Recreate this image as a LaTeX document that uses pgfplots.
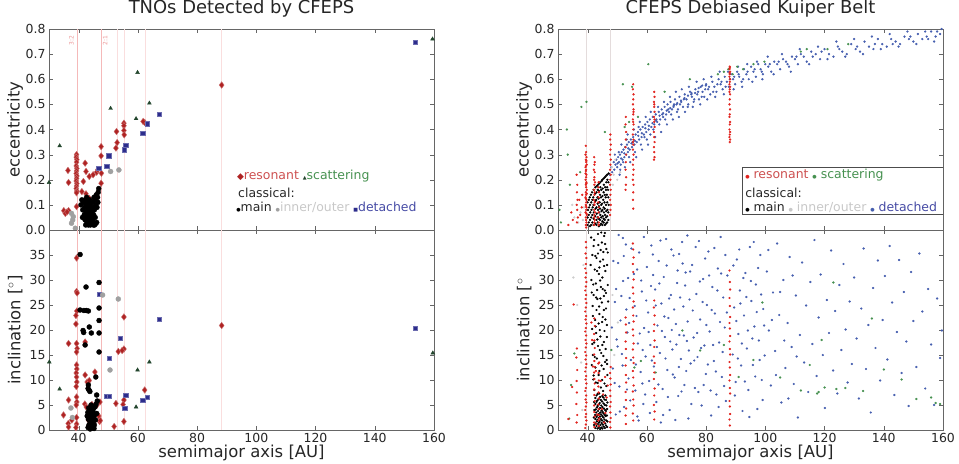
\documentclass[border=0pt]{standalone}
\usepackage{pgfplots}
\pgfplotsset{compat=1.18}
\usepackage{fontspec}
\setmainfont{DejaVu Sans}
\setsansfont{DejaVu Sans}
\definecolor{resred}{RGB}{175,35,35}
\definecolor{restext}{RGB}{205,80,80}
\definecolor{resredR}{RGB}{225,35,30}
\definecolor{scadark}{RGB}{35,70,45}
\definecolor{scagreen}{RGB}{70,145,80}
\definecolor{innergray}{RGB}{160,160,160}
\definecolor{innertext}{RGB}{200,200,200}
\definecolor{innerR}{RGB}{205,205,205}
\definecolor{detblue}{RGB}{45,45,140}
\definecolor{dettext}{RGB}{70,75,165}
\definecolor{detR}{RGB}{70,95,175}
\definecolor{resline}{RGB}{245,185,185}
\definecolor{reslinefaint}{RGB}{250,222,222}
\definecolor{reslabel}{RGB}{235,150,150}
\definecolor{gline}{RGB}{228,220,220}
\pgfplotsset{
 panel/.style={scale only axis, width=385bp, xmin=30, xmax=160,
   xtick={40,60,80,100,120,140,160},
   axis line style={draw=black!60}, tick style={black!60, major tick length=4bp},
   tick label style={font=\fontsize{12.5}{14}\selectfont, text=black!85},
   label style={font=\fontsize{16.5}{19}\selectfont, text=black!85},
   /pgf/number format/assume math mode=true,
   ylabel style={at={(axis description cs:-0.088,0.5)}, anchor=center}},
 toppanel/.style={panel, height=201bp, ymin=0, ymax=0.8,
   ytick={0,0.1,0.2,0.3,0.4,0.5,0.6,0.7,0.8}, xticklabels={},
   yticklabel style={/pgf/number format/.cd, fixed, fixed zerofill, precision=1},
   ylabel={eccentricity},
   title style={font=\fontsize{18}{21}\selectfont, text=black!85, at={(axis description cs:0.5,1.0)}, anchor=south, yshift=2bp}},
 botpanel/.style={panel, height=200bp, ymin=0, ymax=40, ytick={0,5,10,15,20,25,30,35},
   xlabel={semimajor axis [AU]},
   xlabel style={at={(axis description cs:0.5,-0.115)}, anchor=center}},
 resL/.style={only marks, mark=diamond*, mark size=3.3pt, mark options={fill=resred, draw=resred!65!white, line width=0.4pt}},
 mainL/.style={only marks, mark=*, mark size=2.5pt, mark options={fill=black, draw=black}},
 innL/.style={only marks, mark=*, mark size=2.5pt, mark options={fill=innergray, draw=innergray}},
 detL/.style={only marks, mark=square*, mark size=2.2pt, mark options={fill=detblue, draw=detblue!70!white}},
 scaL/.style={only marks, mark=triangle*, mark size=2.2pt, mark options={fill=scadark, draw=scadark}},
 dotR/.style={only marks, mark=*, mark size=0.95pt},
}
\begin{document}
\begin{tikzpicture}
\useasboundingbox (0,0) rectangle (959bp,464bp);
% ---------------- LEFT TOP ----------------
\begin{axis}[toppanel, at={(49bp,234bp)}, anchor=south west, title={TNOs Detected by CFEPS}]
\draw[resline, line width=0.5pt] (axis cs:39.4,0) -- (axis cs:39.4,0.8);
\draw[resline, line width=0.5pt] (axis cs:47.7,0) -- (axis cs:47.7,0.8);
\draw[reslinefaint, line width=0.5pt] (axis cs:52.9,0) -- (axis cs:52.9,0.8);
\draw[reslinefaint, line width=0.5pt] (axis cs:55.4,0) -- (axis cs:55.4,0.8);
\draw[reslinefaint, line width=0.5pt] (axis cs:62.6,0) -- (axis cs:62.6,0.8);
\draw[reslinefaint, line width=0.5pt] (axis cs:88.0,0) -- (axis cs:88.0,0.8);
\node[rotate=90, font=\fontsize{6}{7}\selectfont, text=reslabel] at (axis cs:37.6,0.755) {3:2};
\node[rotate=90, font=\fontsize{6}{7}\selectfont, text=reslabel] at (axis cs:49.0,0.755) {2:1};
\addplot[resL] coordinates {
(39.3,0.30)(39.2,0.29)(39.4,0.28)(39.3,0.27)(39.2,0.255)(39.4,0.245)(39.3,0.235)(39.2,0.225)
(39.4,0.215)(39.3,0.205)(39.2,0.195)(39.4,0.185)(39.3,0.175)(39.2,0.165)(39.4,0.155)(39.3,0.148)(39.3,0.093)
(36.4,0.237)(36.6,0.189)(35.0,0.077)(36.6,0.077)(35.5,0.066)(36.1,0.072)
(42.2,0.266)(42.5,0.233)(43.6,0.213)(41.6,0.193)(41.1,0.153)(42.5,0.144)(43.6,0.126)(43.3,0.082)(43.9,0.10)
(44.9,0.22)(46.1,0.23)(47.6,0.332)(47.6,0.295)(47.7,0.226)(47.6,0.186)(46.5,0.24)
(52.8,0.392)(53.0,0.348)(52.6,0.326)(55.3,0.425)(55.3,0.415)(55.3,0.396)(55.4,0.379)
(62.3,0.428)(61.8,0.432)(88.3,0.577)};
\addplot[detL] coordinates {(46.8,0.246)(50.1,0.295)(49.5,0.255)(55.3,0.319)(55.9,0.338)(61.6,0.385)(63.2,0.423)(67.3,0.462)(153.7,0.747)};
\addplot[innL] coordinates {(37.6,0.066)(38.2,0.053)(37.6,0.027)(38.9,0.007)(38.0,0.04)(50.8,0.233)(53.6,0.239)};
\addplot[mainL] coordinates {
(40.8,0.10)(41.1,0.12)(41.4,0.08)(41.6,0.11)(41.9,0.06)(42.1,0.09)(42.2,0.04)(42.3,0.12)(42.4,0.02)(42.5,0.07)
(42.6,0.10)(42.8,0.05)(42.9,0.03)(43.0,0.08)(43.1,0.11)(43.2,0.06)(43.3,0.02)(43.4,0.04)(43.5,0.09)(43.6,0.07)
(43.7,0.03)(43.8,0.05)(43.9,0.10)(44.0,0.02)(44.1,0.06)(44.2,0.04)(44.3,0.08)(44.4,0.03)(44.5,0.07)(44.6,0.05)
(44.7,0.11)(44.8,0.04)(44.9,0.09)(45.0,0.02)(45.1,0.06)(45.3,0.08)(45.5,0.12)(45.6,0.05)(45.8,0.10)(46.0,0.14)
(46.2,0.09)(46.4,0.13)(46.6,0.15)(46.8,0.165)(46.5,0.11)(46.1,0.03)(45.7,0.025)(41.3,0.05)(42.7,0.13)(43.7,0.12)(45.2,0.13)(45.4,0.02)};
\addplot[scaL] coordinates {(33.6,0.335)(30.0,0.189)(50.8,0.484)(59.9,0.627)(59.4,0.443)(63.9,0.505)(159.5,0.76)};
\node[anchor=west, inner sep=0pt, font=\fontsize{12.5}{15}\selectfont] at (rel axis cs:0.488,0.269)
 {\textcolor{resred}{\small◆}\textcolor{restext}{resonant} \textcolor{scadark}{\tiny▲}\textcolor{scagreen}{scattering}};
\node[anchor=west, inner sep=0pt, font=\fontsize{12.5}{15}\selectfont, text=black!85] at (rel axis cs:0.491,0.184) {classical:};
\node[anchor=west, inner sep=0pt, font=\fontsize{12.5}{15}\selectfont] at (rel axis cs:0.486,0.114)
 {\textcolor{black}{\tiny●}\textcolor{black!85}{main} \textcolor{innergray}{\tiny●}\textcolor{innertext}{inner/outer} \textcolor{detblue}{\tiny■}\textcolor{dettext}{detached}};
\end{axis}
% ---------------- LEFT BOTTOM ----------------
\begin{axis}[botpanel, at={(49bp,34bp)}, anchor=south west, ylabel={inclination [$^\circ$]}]
\draw[resline, line width=0.5pt] (axis cs:39.4,0) -- (axis cs:39.4,40);
\draw[resline, line width=0.5pt] (axis cs:47.7,0) -- (axis cs:47.7,40);
\draw[reslinefaint, line width=0.5pt] (axis cs:52.9,0) -- (axis cs:52.9,40);
\draw[reslinefaint, line width=0.5pt] (axis cs:55.4,0) -- (axis cs:55.4,40);
\draw[reslinefaint, line width=0.5pt] (axis cs:62.6,0) -- (axis cs:62.6,40);
\draw[reslinefaint, line width=0.5pt] (axis cs:88.0,0) -- (axis cs:88.0,40);
\addplot[resL] coordinates {
(39.3,34.4)(39.3,27.7)(39.5,27.4)(39.4,23.8)(39.1,22.9)(39.1,21.2)(36.6,17.3)(39.3,17.3)(39.5,16.3)(39.3,15.6)
(39.3,13.0)(39.4,12.2)(39.2,11.4)(39.3,10.6)(39.4,9.6)(39.2,8.7)(39.3,6.6)(39.4,5.6)(39.2,5.0)(39.3,2.5)(39.3,1.2)(39.1,0.5)
(34.9,3.0)(36.6,6.0)(36.5,1.3)(36.6,0.6)(37.7,2.0)
(42.2,17.6)(42.2,11.0)(42.9,9.6)(43.6,9.9)(42.1,5.2)(42.6,4.6)(45.5,11.6)(43.3,2.0)(44.5,5.1)(45.1,1.3)
(47.1,1.7)(47.2,5.6)(46.8,2.8)(47.3,1.9)(46.1,4.9)(44.8,2.9)
(55.3,22.6)(53.4,15.7)(55.3,16.2)(54.7,15.9)(52.6,5.3)(52.0,0.7)(55.3,1.7)(55.3,6.0)(55.0,5.1)(62.3,8.0)(88.3,20.9)};
\addplot[detL] coordinates {(46.9,27.2)(50.4,14.3)(54.1,18.4)(49.3,6.8)(50.4,6.8)(55.9,7.0)(55.6,4.3)(61.6,6.0)(63.2,6.5)(67.3,22.2)(153.7,20.3)};
\addplot[innL] coordinates {(37.4,4.4)(53.4,26.2)(50.6,12.0)(48.1,27.0)(37.9,2.5)};
\addplot[mainL] coordinates {
(40.5,35.1)(42.5,28.6)(46.9,29.5)(40.5,24.0)(41.8,23.9)(42.6,23.9)(43.3,23.8)(46.9,24.4)(46.9,21.9)(43.6,20.6)
(41.5,19.9)(41.7,19.5)(44.3,19.4)(46.9,19.4)(42.2,17.0)(46.9,15.6)(45.8,10.6)(43.3,9.0)(43.5,8.0)(43.2,8.3)(46.1,7.0)(43.8,7.7)
(43.1,3.5)(43.3,2.2)(43.5,1.0)(43.7,3.0)(43.8,0.5)(43.9,2.5)(44.0,4.0)(44.1,1.5)(44.2,3.3)(44.3,0.8)
(44.4,2.0)(44.5,3.8)(44.6,1.2)(44.7,2.8)(44.8,0.4)(44.9,3.5)(45.0,1.8)(45.1,4.3)(45.2,2.3)(45.3,1.0)
(45.4,3.0)(45.6,4.7)(45.7,2.0)(45.9,5.2)(46.1,3.3)(46.3,5.8)(43.6,1.9)(43.9,0.2)(44.3,2.6)(44.6,4.5)
(43.4,4.4)(42.9,2.8)(44.9,0.9)(44.2,5.0)(45.2,0.3)(43.2,0.5)};
\addplot[scaL] coordinates {(33.6,8.2)(30.1,13.6)(59.9,12.0)(63.9,13.6)(59.4,4.6)(159.6,15.4)};
\end{axis}
% ---------------- RIGHT TOP ----------------
\begin{axis}[toppanel, at={(558bp,234bp)}, anchor=south west, title={CFEPS Debiased Kuiper Belt}]
\draw[gline, line width=0.5pt] (axis cs:39.4,0) -- (axis cs:39.4,0.8);
\draw[gline, line width=0.5pt] (axis cs:47.7,0) -- (axis cs:47.7,0.8);
\addplot[dotR, detR] coordinates {
(47.5,.22)(48.0,.25)(48.3,.23)(48.8,.27)(49.0,.24)(49.4,.26)(49.7,.28)(50.0,.25)(50.3,.29)(50.6,.27)
(50.9,.30)(51.2,.26)(51.5,.31)(51.8,.28)(52.1,.32)(52.4,.29)(52.7,.33)(53.0,.30)(53.3,.34)(53.6,.31)
(53.9,.35)(54.2,.32)(54.6,.36)(55.0,.33)(55.4,.37)(55.8,.34)(56.2,.38)(56.6,.35)(57.0,.39)(57.4,.36)
(57.8,.40)(58.2,.37)(58.6,.41)(59.0,.38)(59.4,.42)(59.8,.39)(60.2,.43)(60.6,.40)(61.0,.44)(61.5,.41)
(62.0,.45)(62.5,.42)(63.0,.46)(63.5,.43)(64.0,.47)(64.5,.44)(65.0,.48)(65.5,.45)(66.0,.49)(66.5,.46)
(67.0,.50)(67.5,.47)(68.0,.51)(68.5,.48)(69.0,.49)(69.5,.52)(70.0,.50)(70.5,.48)(71.0,.53)(71.6,.51)
(72.2,.49)(72.8,.54)(73.4,.52)(74.0,.50)(74.6,.55)(75.2,.53)(75.8,.51)(76.4,.56)(77.0,.54)(77.6,.52)
(78.2,.57)(78.8,.55)(79.4,.53)(80.0,.58)(80.7,.56)(81.4,.54)(82.1,.59)(82.8,.57)(83.5,.55)(84.2,.60)
(84.9,.58)(85.6,.56)(86.3,.61)(87.0,.59)(87.7,.57)(88.4,.62)(89.1,.60)(89.8,.58)(90.5,.63)(91.2,.61)
(92.0,.59)(92.8,.64)(93.6,.62)(94.4,.60)(95.2,.65)(96.0,.63)(96.8,.61)(97.6,.66)(98.4,.64)(99.2,.62)
(100.0,.66)(101.0,.65)(102.0,.63)(103.0,.67)(104.0,.66)(105.0,.64)(106.0,.68)(107.0,.67)(108.0,.65)(109.0,.69)
(110.0,.68)(111.0,.66)(112.0,.70)(113.0,.69)(114.0,.67)(115.5,.71)(117.0,.70)(118.5,.68)(120.0,.72)(121.5,.70)
(123.0,.69)(124.5,.73)(126.0,.71)(127.5,.70)(129.0,.74)(130.5,.72)(132.0,.71)(133.5,.75)(135.0,.73)(136.5,.72)
(138.0,.76)(139.5,.74)(141.0,.73)(142.5,.76)(144.0,.75)(145.5,.74)(147.0,.77)(148.5,.76)(150.0,.75)(151.5,.78)
(153.0,.76)(154.5,.77)(156.0,.79)(157.5,.77)(159.0,.78)
(50.5,.31)(51.0,.24)(52.0,.27)(53.2,.36)(54.0,.29)(55.2,.35)(56.0,.31)(57.2,.41)(58.0,.34)(59.2,.37)
(60.0,.36)(61.2,.38)(62.2,.40)(63.2,.44)(64.2,.42)(65.2,.46)(66.2,.44)(67.2,.48)(68.2,.46)(69.2,.50)
(70.2,.47)(71.2,.50)(72.5,.52)(73.8,.49)(75.0,.54)(76.0,.52)(77.3,.55)(78.5,.53)(79.7,.56)(81.0,.57)
(82.4,.55)(83.8,.58)(85.2,.59)(86.6,.57)(88.0,.60)(89.5,.61)(91.0,.62)(92.5,.60)(94.0,.63)(96.4,.64)
(98.8,.63)(101.5,.66)(104.5,.67)(107.5,.66)(110.5,.69)(116.0,.69)(119.0,.71)(125.0,.72)(131.0,.73)(137.0,.74)
(143.0,.74)(149.0,.77)(155.0,.76)(158.0,.79)
(49.2,.30)(50.8,.22)(51.4,.34)(52.6,.25)(53.5,.38)(54.4,.27)(55.6,.40)(56.4,.29)(57.6,.43)(58.4,.32)
(59.6,.45)(60.4,.34)(61.3,.47)(62.8,.37)(63.8,.49)(64.8,.39)(65.8,.51)(66.8,.42)(67.8,.53)(68.8,.44)
(69.8,.55)(70.8,.45)(71.8,.56)(72.9,.47)(74.2,.57)(75.5,.49)(76.8,.59)(78.0,.50)(79.2,.60)(80.4,.52)
(81.8,.61)(83.1,.53)(84.6,.63)(86.0,.54)(87.4,.63)(89.3,.56)(90.8,.65)(92.2,.57)(93.9,.66)(95.6,.59)
(97.2,.67)(99.0,.60)(100.8,.69)(102.8,.62)(105.6,.70)(108.6,.63)(111.6,.72)(114.8,.66)(117.8,.73)(121.0,.68)
(124.0,.75)(127.0,.69)(130.0,.76)(133.0,.70)(136.0,.77)(139.0,.72)(142.0,.78)(145.0,.73)(148.0,.79)(151.0,.74)
(154.0,.79)(157.0,.75)(159.5,.80)
(50.1,.265)(51.3,.285)(52.4,.305)(53.7,.325)(54.8,.345)(56.0,.355)(57.1,.375)(58.3,.385)(59.5,.405)(60.7,.415)
(61.9,.425)(63.1,.435)(64.3,.455)(65.5,.465)(66.7,.475)(67.9,.485)(69.1,.495)(70.3,.505)(71.5,.515)(72.7,.525)
(73.9,.535)(75.1,.545)(76.3,.545)(77.5,.565)(78.7,.575)(79.9,.575)};
\addplot[dotR, scagreen] coordinates {
(33.0,.40)(33.3,.30)(37.5,.23)(37.9,.49)(39.6,.51)(51.9,.58)(55.0,.57)(60.5,.66)(74.5,.60)(99.7,.67)
(86.0,.63)(87.5,.64)(89.0,.62)(90.5,.65)(92.5,.64)(84.0,.62)(112.0,.71)(114.0,.72)(121.0,.72)(52.5,.41)
(54.0,.43)(57.0,.45)(45.8,.39)(30.5,.08)(31.0,.03)(34.0,.18)(66.0,.55)(96.0,.66)(128.0,.74)};
\addplot[dotR, innerR] coordinates {(35.5,.05)(36.8,.03)(37.6,.07)(38.4,.04)(38.8,.09)(34.8,.10)(48.2,.25)(48.8,.22)(49.3,.28)(50.0,.20)(48.5,.18)(51.0,.23)};
\addplot[dotR, black] coordinates {
(40.0,.02)(40.0,.05)(40.1,.08)(40.0,.11)(40.4,.03)(40.4,.06)(40.5,.09)(40.4,.12)
(40.8,.015)(40.8,.04)(40.9,.07)(40.8,.10)(40.7,.13)(41.2,.02)(41.2,.05)(41.3,.08)(41.2,.11)(41.1,.14)
(41.6,.03)(41.6,.06)(41.7,.09)(41.6,.12)(41.5,.15)(42.0,.02)(42.0,.045)(42.1,.07)(42.0,.10)(41.9,.13)(42.0,.16)
(42.6,.025)(42.6,.055)(42.7,.085)(42.6,.115)(42.5,.145)(42.6,.17)
(43.0,.02)(43.0,.04)(43.1,.065)(43.0,.09)(42.9,.12)(43.0,.15)(43.1,.175)
(43.4,.03)(43.4,.05)(43.5,.08)(43.4,.105)(43.3,.13)(43.4,.16)(43.5,.18)
(43.8,.015)(43.8,.045)(43.9,.07)(43.8,.095)(43.7,.125)(43.8,.155)(43.9,.185)
(44.2,.02)(44.2,.04)(44.3,.06)(44.2,.085)(44.1,.11)(44.2,.14)(44.3,.17)(44.2,.19)
(44.6,.025)(44.6,.05)(44.7,.075)(44.6,.10)(44.5,.13)(44.6,.16)(44.7,.195)
(45.0,.02)(45.0,.035)(45.1,.055)(45.0,.08)(44.9,.105)(45.0,.135)(45.1,.165)(45.0,.20)
(45.4,.03)(45.4,.045)(45.5,.07)(45.4,.09)(45.3,.12)(45.4,.15)(45.5,.18)(45.4,.205)
(45.8,.02)(45.8,.04)(45.9,.06)(45.8,.085)(45.7,.11)(45.8,.14)(45.9,.17)(45.8,.21)
(46.2,.025)(46.2,.05)(46.3,.075)(46.2,.10)(46.1,.13)(46.2,.16)(46.3,.19)(46.2,.215)
(46.6,.03)(46.6,.055)(46.7,.08)(46.6,.11)(46.5,.14)(46.6,.17)(46.7,.20)(46.6,.22)
(47.0,.04)(47.0,.07)(47.1,.10)(47.0,.13)(46.9,.16)(47.0,.19)(47.1,.225)};
\addplot[dotR, resredR] coordinates {
(39.4,.335)(39.5,.31)(39.3,.30)(39.6,.29)(39.4,.28)(39.5,.27)(39.7,.26)(39.3,.25)(39.5,.24)(39.4,.235)
(39.6,.22)(39.5,.21)(39.3,.20)(39.6,.19)(39.4,.18)(39.5,.17)(39.7,.16)(39.4,.15)(39.5,.14)(39.3,.13)
(39.6,.12)(39.5,.11)(39.4,.10)(39.6,.09)(39.5,.08)(39.3,.07)(39.7,.06)(39.4,.05)(39.5,.04)(39.6,.03)
(39.4,.02)(39.5,.01)(39.6,.275)(39.4,.255)(39.6,.185)(39.4,.125)(39.6,.065)(39.3,.225)(39.7,.145)(39.5,.095)
(42.2,.29)(42.4,.27)(42.3,.26)(42.1,.24)(42.4,.23)(42.3,.21)(42.2,.20)(42.5,.19)(42.3,.18)(42.2,.16)
(42.4,.15)(42.3,.14)(42.1,.12)(42.4,.11)(42.3,.10)(42.2,.08)(42.5,.07)(42.3,.06)(42.2,.05)(42.4,.04)(42.3,.03)(42.2,.02)
(43.7,.19)(43.6,.17)(43.8,.15)(43.7,.13)(43.6,.11)(43.8,.09)(43.7,.07)(43.6,.05)(43.8,.03)(43.7,.02)
(47.7,.38)(47.6,.36)(47.8,.34)(47.7,.32)(47.6,.30)(47.8,.28)(47.7,.26)(47.6,.24)(47.8,.22)(47.7,.20)
(47.6,.18)(47.8,.16)(47.7,.14)(47.6,.12)(47.8,.10)(47.7,.08)(47.6,.06)
(36.3,.22)(36.5,.18)(36.4,.15)(36.6,.12)(36.3,.10)(36.5,.08)(36.7,.05)(36.4,.03)(34.5,.07)(35.0,.04)(33.5,.02)(37.2,.12)(37.5,.06)(38.2,.14)(38.0,.09)
(52.9,.45)(52.8,.42)(53.0,.39)(52.9,.36)(52.8,.33)(53.0,.30)(52.9,.27)(52.8,.24)(53.0,.21)(52.9,.18)(52.8,.16)
(55.4,.58)(55.3,.56)(55.5,.54)(55.4,.52)(55.3,.50)(55.5,.48)(55.4,.46)(55.3,.44)(55.5,.42)(55.4,.40)
(55.3,.38)(55.5,.36)(55.4,.34)(55.3,.32)(55.5,.30)(55.4,.28)(55.3,.26)(55.5,.24)(55.4,.22)(55.3,.20)
(55.5,.18)(55.4,.15)(55.3,.12)(55.4,.085)(55.5,.47)(55.3,.35)(55.4,.43)
(62.5,.55)(62.6,.53)(62.4,.51)(62.5,.49)(62.6,.47)(62.4,.45)(62.5,.43)(62.6,.41)(62.4,.39)(62.5,.37)
(62.6,.35)(62.4,.33)(62.5,.31)(62.6,.29)(62.4,.28)(62.5,.50)(62.6,.44)
(88.0,.65)(87.9,.64)(88.1,.63)(88.0,.62)(87.9,.61)(88.1,.60)(88.0,.59)(87.9,.58)(88.1,.57)(88.0,.56)
(87.9,.55)(88.1,.54)(88.0,.52)(87.9,.50)(88.1,.48)(88.0,.46)(87.9,.45)(88.1,.43)(88.0,.42)(87.9,.40)
(88.1,.39)(88.0,.38)(87.9,.37)(88.1,.36)(88.0,.35)(88.0,.645)(87.9,.625)};
\draw[black!70, line width=0.6pt, fill=white] (rel axis cs:0.478,0.080) rectangle (rel axis cs:1.0,0.313);
\node[anchor=west, inner sep=0pt, font=\fontsize{12.5}{15}\selectfont] at (rel axis cs:0.486,0.274)
 {\textcolor{resredR}{\fontsize{5}{5}\selectfont●} \textcolor{restext}{resonant} \textcolor{scagreen}{\fontsize{5}{5}\selectfont●} \textcolor{scagreen}{scattering}};
\node[anchor=west, inner sep=0pt, font=\fontsize{12.5}{15}\selectfont, text=black!85] at (rel axis cs:0.486,0.184) {classical:};
\node[anchor=west, inner sep=0pt, font=\fontsize{12.5}{15}\selectfont] at (rel axis cs:0.486,0.114)
 {\textcolor{black}{\fontsize{5}{5}\selectfont●} \textcolor{black!85}{main} \textcolor{innertext}{\fontsize{5}{5}\selectfont●} \textcolor{innertext}{inner/outer} \textcolor{detR}{\fontsize{5}{5}\selectfont●} \textcolor{dettext}{detached}};
\end{axis}
% ---------------- RIGHT BOTTOM ----------------
\begin{axis}[botpanel, at={(558bp,34bp)}, anchor=south west, ylabel={inclination [$^\circ$}]
\draw[gline, line width=0.5pt] (axis cs:39.4,0) -- (axis cs:39.4,40);
\draw[gline, line width=0.5pt] (axis cs:47.7,0) -- (axis cs:47.7,40);
\addplot[dotR, detR] coordinates {
(48.5,12.3)(49.2,25.6)(49.8,18.1)(50.3,33.4)(50.7,8.7)(51.1,21.9)(51.6,15.2)(52.0,29.8)(52.3,4.6)(52.9,37.1)
(53.4,19.5)(53.8,10.3)(54.2,26.4)(54.6,14.0)(55.6,31.2)(56.1,7.9)(56.5,22.8)(57.0,17.3)(57.4,35.5)(57.9,11.6)
(58.3,27.7)(58.8,5.2)(59.1,20.4)(59.6,14.7)(60.0,32.6)(49.5,3.1)(51.9,38.4)(53.1,24.1)(56.8,2.7)(58.5,9.3)
(60.4,23.5)(60.8,9.8)(61.2,17.0)(61.5,36.9)(62.4,12.7)(62.8,28.1)(63.2,5.6)(63.6,20.9)(64.0,33.8)(64.4,15.4)
(64.9,25.3)(65.3,8.2)(65.7,30.6)(66.1,18.6)(66.5,38.2)(66.9,12.0)(67.3,22.4)(67.7,4.0)(68.1,27.0)(68.6,16.1)
(69.0,34.9)(69.4,10.5)(69.8,21.2)(70.2,29.4)(70.6,6.8)(71.0,19.0)(71.5,14.2)(71.9,37.6)(72.3,24.7)(72.7,9.0)
(73.1,31.5)(73.5,17.8)(74.0,2.3)(74.4,26.1)(74.8,13.3)(62.1,31.0)(64.7,1.5)(68.4,20.0)(70.9,35.2)(73.8,21.7)
(75.3,33.0)(75.8,18.5)(76.2,8.4)(76.7,27.2)(77.1,14.6)(77.6,37.8)(78.0,22.1)(78.5,4.9)(79.0,30.2)(79.4,16.9)
(79.9,11.2)(80.3,25.0)(80.8,35.7)(81.2,19.7)(81.7,2.9)(82.1,28.6)(82.6,13.8)(83.0,23.3)(83.5,7.1)(84.0,32.3)
(84.4,17.5)(84.9,38.6)(85.3,10.6)(85.8,26.5)(86.3,20.5)(86.7,5.8)(87.2,30.9)(89.0,15.1)(89.5,24.5)(90.0,9.6)
(90.4,34.1)(90.9,19.2)(91.4,27.9)(91.8,12.9)(92.3,3.8)(92.8,22.9)(93.3,31.4)(93.8,16.3)(94.3,8.0)(94.8,36.6)
(95.3,25.8)(95.8,13.0)(96.3,20.7)(96.8,29.1)(97.3,4.2)(97.8,17.9)(98.3,35.0)(98.8,10.0)(99.3,24.2)(99.8,14.9)
(100.5,31.7)(101.2,19.9)(101.9,8.9)(102.6,27.5)(103.3,15.8)(104.0,37.3)(104.7,23.0)(105.4,5.5)(106.1,30.0)(106.8,12.4)
(107.5,21.4)(108.2,34.6)(108.9,16.6)(109.6,9.2)(110.3,26.9)(111.0,2.5)(111.7,19.0)(112.4,33.5)(113.1,13.5)(113.8,24.9)
(114.5,7.6)(115.2,29.6)(115.9,17.2)(116.6,38.0)(117.3,10.8)(118.0,22.5)(118.7,31.1)(119.4,15.0)(120.1,4.4)(120.8,26.0)
(121.5,19.4)(122.2,35.9)(122.9,11.9)(123.6,23.8)(124.3,7.3)(125.0,29.0)(125.7,16.0)(126.4,33.2)(127.1,20.1)(127.8,9.5)
(128.5,25.7)(129.2,13.2)(130.0,30.5)(130.8,18.3)(131.6,6.3)(132.4,24.3)(133.2,36.3)(134.0,12.2)(134.8,21.0)(135.6,3.5)
(136.4,28.4)(137.2,16.4)(138.0,33.9)(138.8,9.9)(139.6,22.0)(140.4,30.8)(141.2,14.1)(142.0,36.8)(142.8,25.5)(143.6,7.0)
(144.4,19.6)(145.2,34.0)(146.0,11.4)(146.8,27.6)(147.6,17.7)(148.4,4.8)(149.2,31.6)(150.0,21.8)(151.0,12.6)(152.0,35.3)
(153.0,23.7)(154.0,8.3)(155.0,28.2)(156.0,17.1)(157.0,5.0)(158.0,26.3)(159.0,14.4)(159.6,19.9)
(48.2,20.5)(48.7,33.8)(49.1,9.4)(49.6,28.2)(50.1,16.7)(50.5,39.0)(50.9,3.7)(51.4,26.8)(51.8,12.9)(52.2,34.8)
(53.3,8.1)(53.7,30.4)(54.0,21.4)(54.4,5.9)(54.8,36.3)(55.9,24.8)(56.3,13.1)(56.7,32.1)(57.2,1.9)(57.6,19.3)
(58.1,29.9)(58.6,16.0)(59.0,38.6)(59.4,7.1)(59.8,25.9)(60.6,19.6)(61.0,3.4)(61.4,28.8)(61.7,13.9)(62.0,35.1)
(63.0,24.9)(63.4,16.6)(63.9,9.1)(64.2,29.3)(64.6,37.9)(65.1,19.8)(65.5,3.0)(65.9,22.7)(66.3,14.3)(66.7,32.9)
(67.1,6.6)(67.5,26.3)(67.9,17.7)(68.3,36.1)(68.8,11.1)(69.2,24.1)(69.6,2.0)(70.0,17.1)(70.4,31.9)(70.8,12.6)
(71.2,26.5)(71.7,7.7)(72.1,33.3)(72.5,18.9)(72.9,28.9)(73.3,11.8)(73.7,38.9)(74.2,15.9)(74.6,31.7)(75.0,5.2)
(75.5,23.9)(76.0,13.9)(76.5,36.6)(77.0,19.4)(77.4,7.6)(77.9,29.7)(78.3,16.4)(78.8,25.6)(79.2,9.0)(79.7,34.3)
(80.1,21.0)(80.6,13.1)(81.0,30.9)(81.5,7.9)(81.9,24.0)(82.4,17.0)(82.8,36.4)(83.3,11.7)(83.8,27.9)(84.2,4.6)
(84.7,21.6)(85.1,31.3)(85.6,15.6)(86.1,8.8)(86.5,35.0)(87.0,23.5)(89.2,32.9)(89.7,6.9)(90.2,21.8)(90.7,14.3)
(91.2,36.1)(91.6,25.3)(92.1,17.3)(92.6,30.4)(93.1,9.7)(93.6,26.6)(94.1,19.9)(94.6,2.6)(95.1,29.8)(95.6,18.3)
(96.1,37.6)(96.6,10.7)(97.1,23.6)(97.6,32.4)(98.1,14.0)(98.6,27.1)(99.1,6.0)(99.6,20.9)(101.0,36.0)(102.2,22.0)
(103.6,11.0)(105.0,27.6)(106.4,17.9)(107.8,6.3)(109.2,30.9)(110.6,14.7)};
\addplot[dotR, scagreen] coordinates {
(33.8,2.3)(35.5,15.3)(34.4,9.0)(48.0,16.0)(55.8,12.5)(58.0,13.8)(63.0,11.5)(72.0,19.9)(78.0,15.9)(86.0,17.0)
(91.0,10.6)(96.0,14.0)(105.0,10.5)(112.0,7.9)(115.0,13.0)(117.5,7.3)(118.0,7.6)(119.0,18.0)(120.0,8.5)(124.0,8.2)
(127.0,8.4)(133.0,7.8)(136.0,22.3)(140.0,12.1)(146.0,10.1)(151.0,6.2)(156.0,6.5)(157.5,5.4)(159.0,5.2)(123.0,29.5)(99.0,25.5)};
\addplot[dotR, innerR] coordinates {(36.5,25.0)(37.8,13.5)(38.6,33.0)(35.2,30.5)(48.4,27.0)(49.0,15.0)(50.2,21.5)(38.2,4.0)};
\addplot[dotR, black] coordinates {
(41.2,38.5)(42.0,36.8)(43.5,39.2)(44.8,37.5)(45.6,38.8)(46.3,36.2)(41.6,35.0)(43.0,34.4)(44.2,33.7)(45.3,35.6)
(46.6,33.0)(42.4,32.1)(43.8,31.2)(45.0,30.5)(46.0,31.8)(41.3,30.0)(42.8,29.3)(44.5,28.6)(45.8,27.9)(46.8,29.0)
(42.0,27.0)(43.3,26.2)(44.8,25.5)(45.5,26.8)(41.7,24.8)(43.0,24.0)(44.0,23.2)(46.2,24.3)(42.5,22.0)(43.7,21.3)
(45.1,22.6)(46.5,21.0)(41.5,20.2)(42.9,19.4)(44.3,18.7)(45.7,19.8)(42.2,17.5)(43.5,16.8)(45.0,17.0)(46.1,16.2)
(41.8,15.0)(43.1,14.3)(44.6,15.4)(45.9,13.6)(42.6,12.5)(44.0,11.8)(45.4,12.2)(46.7,11.0)(41.9,10.1)(43.4,9.4)
(44.9,10.0)(46.3,8.8)(42.3,8.0)(43.9,7.3)(45.2,7.8)(46.0,6.9)(41.4,13.0)(44.4,36.0)(45.6,32.8)(43.2,28.0)(44.1,20.0)(45.3,14.8)
(41.0,33.0)(41.4,27.5)(41.8,22.8)(42.2,38.0)(42.6,34.8)(42.9,26.5)(43.2,31.8)(43.6,37.0)(43.9,24.7)(44.2,29.9)
(44.6,39.5)(44.9,21.6)(45.2,34.1)(45.5,24.0)(45.9,37.2)(46.2,27.4)(46.5,18.6)(46.8,35.5)(41.6,17.2)(42.4,14.6)
(43.3,18.1)(44.1,16.0)(44.7,12.9)(45.5,17.6)(46.4,14.0)(42.0,10.9)(42.8,9.5)(43.7,11.0)(44.5,8.5)(45.7,9.3)
(46.6,13.2)(41.9,29.1)(43.5,35.3)(45.1,28.2)(46.0,22.1)(44.3,26.3)(42.7,20.7)(44.0,32.5)(45.8,39.4)(46.9,25.7)
(42.6,0.4)(42.7,1.3)(42.6,2.2)(42.5,3.0)(42.7,4.1)(42.6,5.2)(42.6,6.4)
(43.0,0.8)(43.1,1.7)(43.0,2.6)(42.9,3.5)(43.1,4.5)(43.0,5.6)(43.0,6.9)
(43.4,0.3)(43.5,1.2)(43.3,2.0)(43.4,2.9)(43.5,3.8)(43.4,4.8)(43.3,5.9)(43.4,7.2)
(43.8,0.6)(43.9,1.5)(43.7,2.4)(43.8,3.2)(43.9,4.2)(43.8,5.1)(43.7,6.2)
(44.2,0.2)(44.3,1.0)(44.1,1.8)(44.2,2.7)(44.3,3.5)(44.2,4.4)(44.1,5.4)(44.2,6.6)
(44.6,0.5)(44.7,1.4)(44.5,2.2)(44.6,3.1)(44.7,3.9)(44.6,4.9)(44.5,6.0)
(45.0,0.3)(45.1,1.1)(44.9,1.9)(45.0,2.8)(45.1,3.6)(45.0,4.6)(44.9,5.7)(45.0,6.8)
(45.4,0.7)(45.5,1.6)(45.3,2.5)(45.4,3.3)(45.5,4.3)(45.4,5.3)(45.3,6.5)
(45.8,0.4)(45.9,1.3)(45.7,2.1)(45.8,3.0)(45.9,4.0)(45.8,5.0)(45.7,6.1)
(46.2,0.9)(46.3,1.9)(46.1,2.8)(46.2,3.8)(46.3,4.9)(46.2,6.0)
(46.6,0.6)(46.7,1.7)(46.5,2.9)(46.6,4.2)(46.7,5.5)
(42.2,1.0)(42.1,2.5)(42.3,4.0)(42.2,5.6)};
\addplot[dotR, resredR] coordinates {
(39.2,0.4)(39.4,1.1)(39.6,1.9)(39.3,2.6)(39.5,3.2)(39.2,4.0)(39.4,4.7)(39.6,5.5)(39.3,6.1)(39.5,6.9)
(39.2,7.8)(39.4,8.4)(39.6,9.3)(39.3,10.1)(39.5,10.8)(39.2,11.7)(39.4,12.5)(39.6,13.2)(39.3,14.1)(39.5,14.9)
(39.2,15.6)(39.4,16.5)(39.6,17.3)(39.3,18.0)(39.5,18.9)(39.2,19.7)(39.4,20.4)(39.6,21.3)(39.3,22.1)(39.5,22.8)
(39.2,23.7)(39.4,24.5)(39.6,25.4)(39.3,26.2)(39.5,27.0)(39.2,27.9)(39.4,28.7)(39.6,29.6)(39.3,30.5)(39.5,31.4)
(39.2,32.3)(39.4,33.2)(39.6,34.4)(39.3,35.3)(39.5,36.5)(39.4,37.6)
(42.3,0.6)(42.2,1.5)(42.4,2.7)(42.3,3.6)(42.2,4.9)(42.4,5.8)(42.3,7.0)(42.2,8.1)(42.4,9.3)(42.3,10.2)
(42.2,11.5)(42.4,12.6)(42.3,13.8)(42.2,15.1)(42.4,16.4)(42.3,17.9)(42.2,19.2)(42.4,20.8)(42.3,22.3)
(43.7,0.8)(43.6,1.9)(43.8,3.0)(43.7,4.2)(43.6,5.1)(43.8,6.3)(43.7,7.5)(43.6,8.7)(43.8,9.9)(43.7,11.4)
(47.7,0.5)(47.6,1.6)(47.8,2.4)(47.7,3.5)(47.6,4.7)(47.8,5.6)(47.7,6.8)(47.6,7.9)(47.8,9.1)(47.7,10.3)(47.6,11.4)(47.8,12.6)
(36.4,16.3)(36.2,14.5)(36.5,12.0)(36.3,9.8)(36.4,7.5)(36.2,5.2)(36.5,3.0)(36.3,1.5)(34.8,8.6)(33.5,2.2)(35.3,25.1)
(42.9,1.2)(43.2,3.1)(44.0,2.3)(44.8,4.2)(45.6,1.5)(46.0,3.4)(46.4,6.5)(43.6,13.3)(44.4,9.8)(45.2,7.1)
(46.8,8.9)(45.9,10.6)(42.8,11.8)(43.9,13.5)(41.8,12.7)(41.5,18.0)(41.3,21.5)
(52.9,1.2)(52.8,2.9)(53.0,4.3)(52.9,6.0)(52.8,7.6)(53.0,9.5)(52.9,11.0)(52.8,12.9)(53.0,14.4)(52.9,16.2)
(52.8,17.7)(53.0,19.5)(52.9,21.1)(52.8,22.5)
(55.4,1.9)(55.3,3.3)(55.5,4.9)(55.4,6.1)(55.3,7.7)(55.5,8.9)(55.4,10.5)(55.3,11.8)(55.5,13.4)(55.4,14.5)
(55.3,16.1)(55.5,17.3)(55.4,18.9)(55.3,20.1)(55.5,21.7)(55.4,22.9)(55.3,24.5)(55.5,25.7)(55.4,27.3)(55.3,28.5)
(55.5,30.1)(55.4,31.6)(55.3,33.2)(55.5,34.5)(55.4,36.1)(55.3,37.3)
(62.5,2.1)(62.6,3.7)(62.4,5.0)(62.5,6.9)(62.6,8.3)(62.4,10.2)(62.5,11.5)(62.6,13.4)(62.4,14.7)(62.5,16.6)
(62.6,17.9)(62.4,19.8)(62.5,21.1)(62.6,22.9)(62.4,24.5)(62.5,25.9)
(88.0,0.9)(87.9,2.1)(88.1,3.2)(88.0,4.7)(87.9,5.8)(88.1,7.3)(88.0,8.4)(87.9,9.9)(88.1,11.0)(88.0,12.5)
(87.9,13.6)(88.1,15.1)(88.0,16.2)(87.9,17.7)(88.1,18.8)(88.0,20.3)(87.9,21.4)(88.1,22.6)(88.0,24.8)(87.9,26.4)
(88.1,28.1)(88.0,29.6)(87.9,31.9)};
\end{axis}
\end{tikzpicture}
\end{document}
